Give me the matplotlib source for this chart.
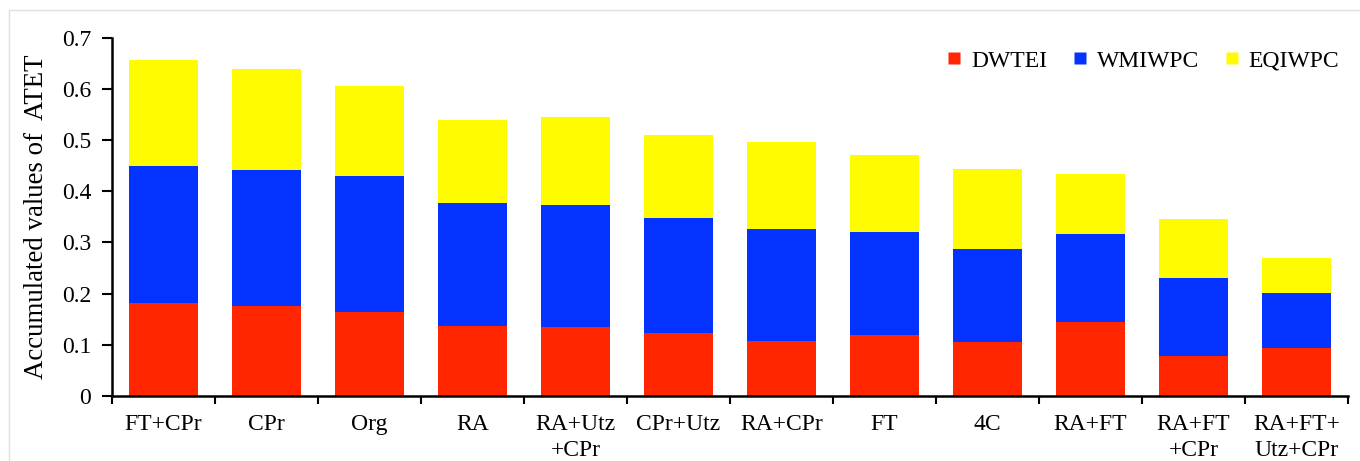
import matplotlib
matplotlib.use("Agg")
import matplotlib.pyplot as plt
from matplotlib.lines import Line2D
import numpy as np

categories = ["FT+CPr", "CPr", "Org", "RA", "RA+Utz\n+CPr", "CPr+Utz", "RA+CPr",
              "FT", "4C", "RA+FT", "RA+FT\n+CPr", "RA+FT+\nUtz+CPr"]
dwtei = [0.181, 0.176, 0.165, 0.137, 0.134, 0.123, 0.107, 0.119, 0.105, 0.145, 0.079, 0.093]
wmiwpc = [0.268, 0.265, 0.264, 0.241, 0.240, 0.224, 0.219, 0.201, 0.182, 0.171, 0.152, 0.108]
eqiwpc = [0.207, 0.198, 0.176, 0.161, 0.171, 0.163, 0.170, 0.151, 0.156, 0.118, 0.115, 0.069]
series_names = ["DWTEI", "WMIWPC", "EQIWPC"]
colors = ["#FF2600", "#0433FF", "#FFFB00"]
yticks = [0, 0.1, 0.2, 0.3, 0.4, 0.5, 0.6, 0.7]
ytick_labels = ["0", "0.1", "0.2", "0.3", "0.4", "0.5", "0.6", "0.7"]

plt.rcParams['font.family'] = ['Liberation Serif', 'DejaVu Serif']

W, H = 1360, 461
fig = plt.figure(figsize=(W / 100, H / 100), dpi=100)
ax = fig.add_axes([112 / W, 1 - 396 / H, (1348 - 112) / W, (396 - 37.7) / H])

x = np.arange(len(categories))
bottom = np.zeros(len(categories))
for name, vals, c in zip(series_names, [dwtei, wmiwpc, eqiwpc], colors):
    ax.bar(x, vals, width=0.67, bottom=bottom, color=c, label=name, edgecolor='none')
    bottom = bottom + np.array(vals)

ax.set_xlim(-0.5, len(categories) - 0.5)
ax.set_ylim(0, 0.7)
ax.set_yticks(yticks)
ax.set_yticklabels(ytick_labels, fontsize=17)
ax.set_xticks(np.arange(len(categories) + 1) - 0.5)
ax.set_xticklabels([])
ax.set_xticks(x, minor=True)
ax.set_xticklabels(categories, minor=True, fontsize=17, linespacing=1.3)
ax.tick_params(axis='x', which='major', direction='out', length=6, width=1.5, color='black')
ax.tick_params(axis='x', which='minor', length=0, pad=13)
ax.tick_params(axis='y', direction='out', length=7, width=1.5, pad=8)
for s in ['top', 'right']:
    ax.spines[s].set_visible(False)
for s in ['left', 'bottom']:
    ax.spines[s].set_linewidth(1.8)

ax.set_ylabel("Accumulated values of  ATET", fontsize=19.4, labelpad=9)

handles = [Line2D([0], [0], marker='s', linestyle='none', markersize=9,
                  markerfacecolor=c, markeredgecolor='none') for c in colors]
ax.legend(handles, series_names, ncol=3, frameon=False, fontsize=17,
          loc='upper right', bbox_to_anchor=(1.01, 1.025), handlelength=0.8,
          handletextpad=0.3, columnspacing=1.0)

# light figure border
fig.add_artist(Line2D([9 / W, 1], [1 - 10 / H, 1 - 10 / H], transform=fig.transFigure,
                      color='#e0e0e0', lw=1))
fig.add_artist(Line2D([9 / W, 9 / W], [0, 1 - 10 / H], transform=fig.transFigure,
                      color='#e0e0e0', lw=1))

fig.savefig("out.png", dpi=100)
